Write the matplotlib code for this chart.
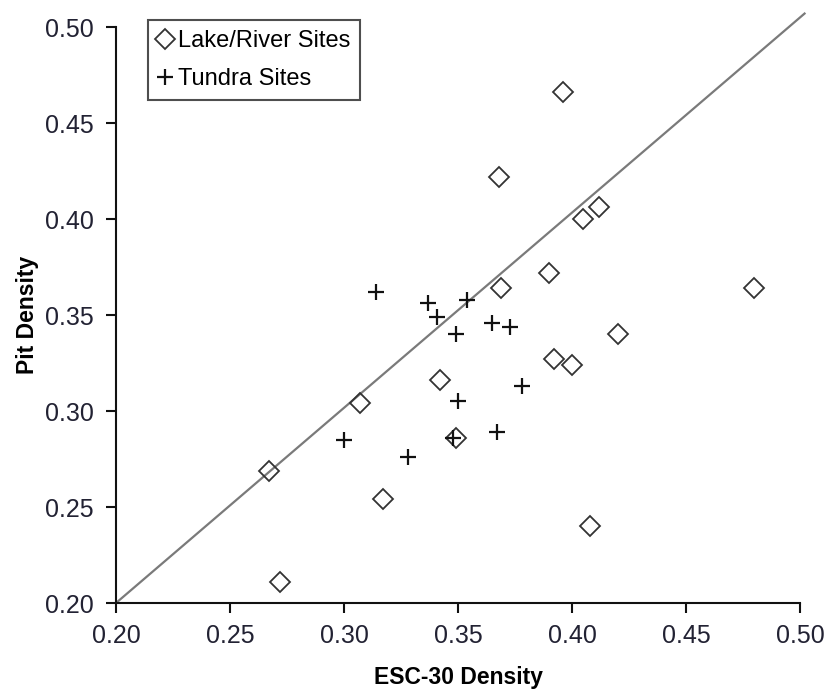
import matplotlib
matplotlib.use("Agg")
import matplotlib.pyplot as plt

plt.rcParams['font.family'] = ['Liberation Sans', 'DejaVu Sans']

# Lake/River sites (diamonds)
lake_esc = [0.267, 0.272, 0.307, 0.317, 0.342, 0.349, 0.368, 0.369, 0.390,
            0.392, 0.396, 0.400, 0.405, 0.408, 0.412, 0.420, 0.480]
lake_pit = [0.269, 0.211, 0.304, 0.254, 0.316, 0.286, 0.422, 0.364, 0.372,
            0.327, 0.466, 0.324, 0.400, 0.240, 0.406, 0.340, 0.364]

# Tundra sites (crosses)
tundra_esc = [0.314, 0.337, 0.341, 0.349, 0.354, 0.365, 0.373, 0.378,
              0.350, 0.300, 0.328, 0.348, 0.367]
tundra_pit = [0.362, 0.356, 0.349, 0.340, 0.358, 0.346, 0.344, 0.313,
              0.305, 0.285, 0.276, 0.286, 0.289]

# reference line
line_x = [0.20, 0.502]
line_y = [0.20, 0.507]

ticks = [0.20, 0.25, 0.30, 0.35, 0.40, 0.45, 0.50]

fig = plt.figure(figsize=(8.26, 6.94), dpi=100)
ax = fig.add_axes([116/826, 1 - 603/694, 684/826, 576/694])

ax.plot(line_x, line_y, color='#7a7a7a', lw=1.6, clip_on=False, zorder=1)
ax.plot(lake_esc, lake_pit, linestyle='none', marker='D', ms=10,
        mfc='none', mec='#333333', mew=1.3, label='Lake/River Sites',
        clip_on=False, zorder=3)
ax.plot(tundra_esc, tundra_pit, linestyle='none', marker='+', ms=12,
        mec='#111111', mew=1.6, label='Tundra Sites', clip_on=False, zorder=3)

ax.set_xlim(0.20, 0.50)
ax.set_ylim(0.20, 0.50)
ax.set_xticks(ticks)
ax.set_yticks(ticks)
ax.set_xticklabels([f'{t:.2f}' for t in ticks])
ax.set_yticklabels([f'{t:.2f}' for t in ticks])

for s in ['top', 'right']:
    ax.spines[s].set_visible(False)
for s in ['left', 'bottom']:
    ax.spines[s].set_linewidth(1.5)
    ax.spines[s].set_color('#111111')

ax.tick_params(axis='both', direction='out', length=7, width=1.5,
               labelsize=18, colors='#111111', labelcolor='#222233')
ax.tick_params(axis='x', pad=8)
ax.tick_params(axis='y', pad=9)

ax.set_xlabel('ESC-30 Density', fontsize=16.5, fontweight='bold', labelpad=13)
ax.set_ylabel('Pit Density', fontsize=16.5, fontweight='bold', labelpad=4)

leg = ax.legend(loc='upper left', bbox_to_anchor=(148/826, 1 - 20/694),
                bbox_transform=fig.transFigure, borderaxespad=0,
                fontsize=17, frameon=True, fancybox=False, handlelength=0.6,
                handletextpad=0.25, borderpad=0.42, labelspacing=0.7)
leg.get_frame().set_edgecolor('#222222')
leg.get_frame().set_linewidth(1.5)

fig.savefig('out.png', dpi=100)
